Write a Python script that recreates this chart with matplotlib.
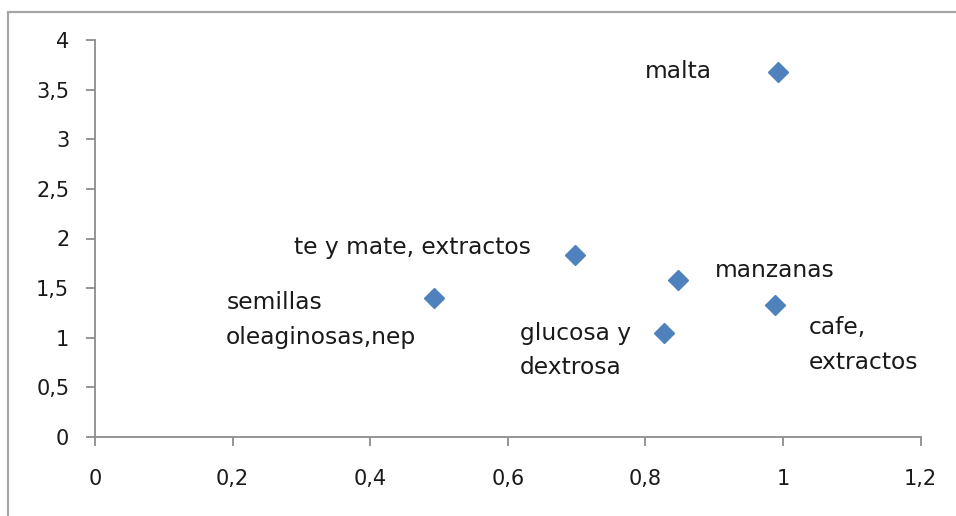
import matplotlib
matplotlib.use("Agg")
import matplotlib.pyplot as plt
from matplotlib.patches import Rectangle
from matplotlib.ticker import FuncFormatter, MultipleLocator

# productos y sus coordenadas
productos = ["malta", "te y mate, extractos", "semillas\noleaginosas,nep",
             "manzanas", "cafe,\nextractos", "glucosa y\ndextrosa"]
x_vals = [0.992, 0.698, 0.493, 0.847, 0.988, 0.827]
y_vals = [3.68, 1.835, 1.40, 1.58, 1.33, 1.05]

# posicion de cada etiqueta respecto a su punto (pixeles)
offsets = [(-66, 0, "right"), (-44, 7, "right"), (-208, -22, "left"),
           (37, 10, "left"), (34, -40, "left"), (-144, -18, "left")]

plt.rcParams["font.family"] = ["DejaVu Sans"]
txt_color = "#1a1a1a"
axis_color = "#8c8c8c"

fig = plt.figure(figsize=(9.56, 5.16), dpi=100)
ax = fig.add_axes([95 / 956, 1 - 437 / 516, (920.7 - 95) / 956, (437 - 40) / 516])

ax.plot(x_vals, y_vals, linestyle="none", marker="D", markersize=10,
        color="#4f81bd", clip_on=False, zorder=3)

for name, x, y, (dx, dy, ha) in zip(productos, x_vals, y_vals, offsets):
    ax.annotate(name, (x, y), xytext=(dx, dy), textcoords="offset pixels",
                ha=ha, va="center", fontsize=16.8, color=txt_color,
                linespacing=1.62)

ax.set_xlim(0, 1.2)
ax.set_ylim(0, 4)
ax.xaxis.set_major_locator(MultipleLocator(0.2))
ax.yaxis.set_major_locator(MultipleLocator(0.5))
comma = FuncFormatter(lambda v, pos: f"{v:g}".replace(".", ","))
ax.xaxis.set_major_formatter(comma)
ax.yaxis.set_major_formatter(comma)

for side in ("top", "right"):
    ax.spines[side].set_visible(False)
for side in ("left", "bottom"):
    ax.spines[side].set_color(axis_color)
    ax.spines[side].set_linewidth(1.3)

ax.tick_params(axis="both", direction="out", length=6.5, width=1.3,
               color=axis_color, labelsize=15, labelcolor=txt_color)
ax.tick_params(axis="y", pad=12)
ax.tick_params(axis="x", pad=16.5)

# marco exterior del grafico
fig.add_artist(Rectangle((8 / 956, -0.1), 2, 1 - 12 / 516 + 0.1,
                         transform=fig.transFigure, fill=False,
                         edgecolor="#a6a6a6", linewidth=1.6))

fig.savefig("out.png", dpi=100)
